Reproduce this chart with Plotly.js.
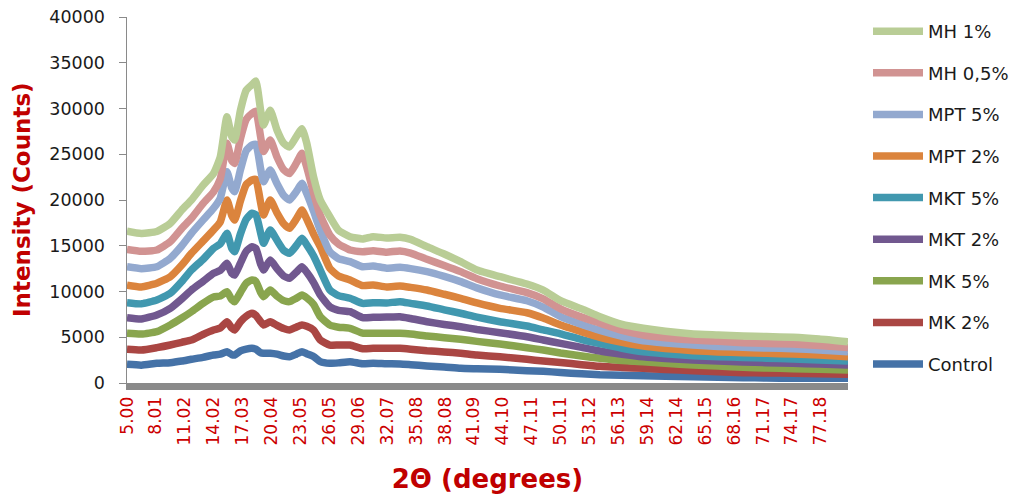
<!DOCTYPE html>
<html>
<head>
<meta charset="utf-8">
<script src="https://cdn.plot.ly/plotly-3.0.1.min.js"></script>
<style>html,body{margin:0;padding:0;background:#fff;}#chart{width:1011px;height:499px;}</style>
</head>
<body>
<div id="chart"></div>
<script>
// 2-theta positions (degrees)
const twoTheta = [5.0, 6.5, 8.1, 9.5, 10.7, 11.7, 12.9, 14.0, 14.7, 15.4, 15.9, 16.2, 16.8, 17.4, 18.0, 18.4, 18.9, 19.2, 19.9, 20.6, 21.3, 21.9, 22.6, 23.2, 23.7, 24.4, 25.1, 26.1, 27.0, 28.2, 29.5, 30.6, 32.0, 33.4, 34.5, 36.2, 38.0, 39.7, 41.4, 43.8, 46.6, 48.3, 50.1, 52.3, 54.2, 56.5, 58.7, 61.0, 63.9, 66.5, 69.1, 71.5, 74.3, 77.0, 80.0];

const control = [2040, 1950, 2150, 2220, 2400, 2590, 2800, 3060, 3150, 3420, 3100, 3060, 3500, 3700, 3790, 3700, 3300, 3250, 3250, 3150, 2950, 2870, 3150, 3420, 3200, 2900, 2330, 2150, 2200, 2330, 2100, 2150, 2100, 2080, 2000, 1860, 1750, 1600, 1550, 1490, 1350, 1280, 1150, 1000, 900, 850, 800, 750, 690, 630, 580, 550, 510, 510, 510];
const mk2 = [3680, 3600, 3860, 4150, 4450, 4700, 5300, 5790, 6000, 6700, 6000, 5790, 6700, 7300, 7620, 7400, 6700, 6340, 6700, 6300, 5950, 5790, 6100, 6340, 6200, 5800, 4700, 4150, 4150, 4150, 3750, 3790, 3800, 3790, 3700, 3530, 3400, 3250, 3050, 2870, 2590, 2400, 2240, 2000, 1820, 1700, 1600, 1470, 1350, 1230, 1130, 1100, 1060, 1000, 950];
const mk5 = [5430, 5350, 5610, 6340, 7100, 7790, 8700, 9400, 9500, 9980, 9100, 8890, 9900, 10900, 11260, 11100, 9900, 9430, 10160, 9500, 9000, 8890, 9250, 9620, 9300, 8600, 7250, 6340, 6100, 5980, 5450, 5430, 5450, 5430, 5350, 5140, 4950, 4780, 4550, 4260, 3860, 3600, 3280, 2950, 2700, 2450, 2330, 2150, 1970, 1850, 1710, 1640, 1570, 1500, 1420];
const mkt2 = [7140, 7000, 7430, 8160, 9200, 10160, 11100, 12000, 12300, 13080, 12000, 11800, 13100, 14400, 14900, 14700, 13000, 12350, 13440, 12500, 11700, 11440, 12100, 12710, 12100, 11000, 9620, 8340, 7950, 7790, 7150, 7180, 7200, 7250, 7050, 6700, 6400, 6150, 5850, 5500, 5060, 4700, 4330, 3900, 3500, 3150, 2870, 2680, 2510, 2400, 2300, 2220, 2150, 2080, 1970];
const mkt5 = [8780, 8650, 9070, 9800, 11100, 12350, 13500, 14720, 15200, 16360, 14700, 14350, 16300, 17900, 18550, 18400, 16400, 15270, 16720, 15600, 14500, 14170, 15000, 15810, 15100, 13900, 12350, 10160, 9550, 9260, 8700, 8780, 8750, 8890, 8700, 8420, 8000, 7620, 7200, 6700, 6230, 5800, 5370, 4750, 4300, 3800, 3420, 3200, 2980, 2880, 2800, 2710, 2620, 2520, 2400];
const mpt2 = [10700, 10500, 10900, 11620, 12900, 14170, 15500, 16720, 17600, 20000, 18300, 17810, 19900, 21700, 22190, 22250, 19700, 18360, 20000, 18600, 17400, 16910, 17900, 18910, 17900, 16300, 14900, 12530, 11700, 11260, 10650, 10710, 10500, 10600, 10450, 10160, 9700, 9260, 8750, 8160, 7680, 7100, 6330, 5600, 5000, 4450, 4040, 3780, 3530, 3400, 3310, 3240, 3170, 3050, 2870];
const mpt5 = [12700, 12500, 12710, 13630, 15000, 16360, 17800, 19090, 20200, 23090, 21300, 20910, 23300, 25400, 26010, 26100, 23400, 22000, 23280, 21800, 20500, 20000, 20900, 21820, 20700, 18800, 16720, 14350, 13600, 13260, 12700, 12790, 12550, 12640, 12500, 12170, 11650, 11080, 10400, 9620, 8990, 8300, 7250, 6400, 5750, 5100, 4620, 4380, 4150, 4000, 3900, 3820, 3750, 3600, 3420];
const mh05 = [14600, 14400, 14540, 15440, 16900, 18000, 19600, 20900, 22300, 26200, 24300, 24000, 26700, 28800, 29470, 29700, 26900, 25300, 26560, 24700, 23300, 22900, 24000, 25100, 23600, 20800, 18360, 16170, 15200, 14540, 14350, 14460, 14300, 14430, 14200, 13520, 12850, 12170, 11400, 10600, 9870, 9200, 8100, 7200, 6550, 5750, 5250, 4950, 4700, 4550, 4400, 4330, 4260, 4100, 3880];
const mh1 = [16600, 16350, 16550, 17450, 18900, 20000, 21600, 22900, 24700, 29100, 26900, 26550, 29800, 32000, 32600, 33000, 29800, 28200, 29800, 27650, 26200, 25800, 26900, 27800, 26200, 22550, 20000, 18170, 16700, 15990, 15750, 15990, 15850, 15920, 15700, 14900, 14100, 13260, 12350, 11620, 10820, 10160, 9000, 8100, 7250, 6400, 5980, 5650, 5360, 5250, 5140, 5080, 4990, 4800, 4500];

const seriesNames = ['Control', 'MK 2%', 'MK 5%', 'MKT 2%', 'MKT 5%', 'MPT 2%', 'MPT 5%', 'MH 0,5%', 'MH 1%'];
const seriesValues = [control, mk2, mk5, mkt2, mkt5, mpt2, mpt5, mh05, mh1];
const seriesColors = ['#4572A7', '#AA4643', '#89A54E', '#71588F', '#4198AF', '#DB843D', '#93A9CF', '#D19392', '#B9CD96'];

// x-axis category labels
const xTickVals = [5.00, 8.01, 11.02, 14.02, 17.03, 20.04, 23.05, 26.05, 29.06, 32.07, 35.08, 38.08, 41.09, 44.10, 47.11, 50.11, 53.12, 56.13, 59.14, 62.14, 65.15, 68.16, 71.17, 74.17, 77.18];
const xTickText = xTickVals.map(v => v.toFixed(2));

const traces = seriesNames.map((name, i) => ({
  type: 'scatter',
  mode: 'lines',
  name: name,
  legendgroup: 'g' + i,
  legendrank: 1000 - i,
  x: twoTheta,
  y: seriesValues[i],
  line: {color: seriesColors[i], width: 7.5, shape: 'spline', smoothing: 0.5},
  hoverinfo: 'x+y+name'
}));

const layout = {
  width: 1011,
  height: 499,
  margin: {l: 127, r: 163, t: 17, b: 116, pad: 0},
  paper_bgcolor: '#ffffff',
  plot_bgcolor: '#ffffff',
  font: {family: 'DejaVu Sans', size: 17, color: '#1a1a1a'},
  showlegend: true,
  legend: {
    xref: 'container', yref: 'container',
    x: 868 / 1011, xanchor: 'left',
    y: 1 - 13 / 499, yanchor: 'top',
    traceorder: 'grouped',
    tracegroupgap: 15.2,
    maxheight: 480,
    font: {family: 'DejaVu Sans', size: 18, color: '#1a1a1a'},
    bgcolor: 'rgba(0,0,0,0)',
    borderwidth: 0,
    itemwidth: 50
  },
  xaxis: {
    type: 'linear',
    range: [5, 80],
    tickmode: 'array',
    tickvals: xTickVals,
    ticktext: xTickText,
    tickangle: -90,
    tickfont: {family: 'DejaVu Sans', size: 17, color: '#CC0000'},
    ticks: '',
    showgrid: false,
    zeroline: false,
    showline: true,
    linecolor: '#8a8a8a',
    linewidth: 7,
    ticklabelstandoff: 0,
    title: {
      text: '2Θ (degrees)',
      font: {family: 'DejaVu Sans', size: 26, color: '#C00000', weight: 'bold'},
      standoff: 28
    }
  },
  yaxis: {
    range: [0, 40000],
    tickmode: 'linear',
    tick0: 0,
    dtick: 5000,
    tickformat: 'd',
    ticks: 'outside',
    ticklen: 7,
    tickwidth: 1,
    tickcolor: '#8a8a8a',
    tickfont: {family: 'DejaVu Sans', size: 17.5, color: '#1a1a1a'},
    showgrid: false,
    zeroline: false,
    showline: true,
    linecolor: '#8a8a8a',
    linewidth: 1.5,
    ticklabelstandoff: 10
  },
  annotations: [{
    text: 'Intensity (Counts)',
    xref: 'paper', yref: 'paper',
    x: (22 - 127) / 721, y: 0.5,
    xanchor: 'center', yanchor: 'middle',
    textangle: -90,
    showarrow: false,
    font: {family: 'DejaVu Sans', size: 23, color: '#C00000', weight: 'bold'}
  }]
};

Plotly.newPlot('chart', traces, layout, {displayModeBar: false, staticPlot: true});
</script>
</body>
</html>
